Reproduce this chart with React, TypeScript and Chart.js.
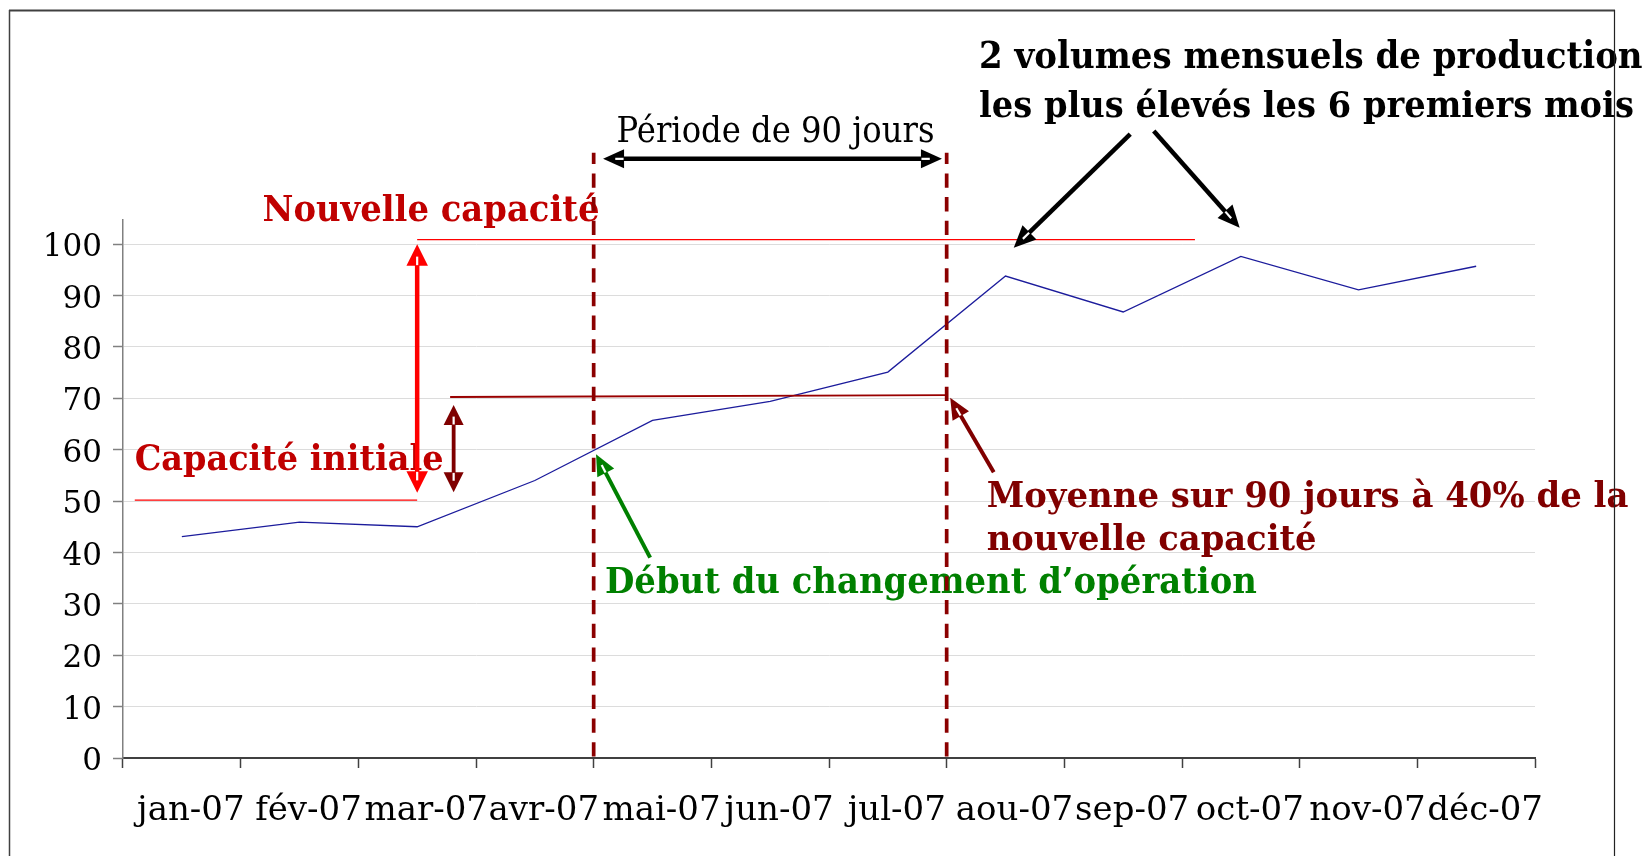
import React, { useEffect, useRef } from 'react';
import { Chart, registerables } from 'chart.js';

Chart.register(...registerables);

// ---------- data ----------
const months = ['jan-07', 'fév-07', 'mar-07', 'avr-07', 'mai-07', 'jun-07', 'jul-07', 'aou-07', 'sep-07', 'oct-07', 'nov-07', 'déc-07'];
const volumes = [43.1, 45.9, 45.0, 54.0, 65.7, 69.4, 75.1, 93.8, 86.8, 97.6, 91.1, 95.7];
const yTickValues = [0, 10, 20, 30, 40, 50, 60, 70, 80, 90, 100];
const initialCapacity = 50.2;
const newCapacity = 100.9;
const averageLevel = [70.25, 70.6];
const yMax = 104.7;

const SERIF = '"DejaVu Serif", "Liberation Serif", serif';

type Ctx = CanvasRenderingContext2D;

function drawFitted(ctx: Ctx, text: string, x: number, baseline: number, width: number, weight: string, color: string, vscale = 1.07) {
  ctx.save();
  ctx.font = `${weight} 100px ${SERIF}`;
  const w = ctx.measureText(text).width;
  const size = (100 * width) / w;
  ctx.font = `${weight} ${size}px ${SERIF}`;
  ctx.fillStyle = color;
  ctx.textAlign = 'left';
  ctx.textBaseline = 'alphabetic';
  ctx.translate(x, baseline);
  ctx.scale(1, vscale);
  ctx.fillText(text, 0, 0);
  ctx.restore();
}

function arrowHead(ctx: Ctx, tipX: number, tipY: number, ang: number, color: string, len: number, wid: number) {
  const c = Math.cos(ang), s = Math.sin(ang);
  const bx = tipX - c * len, by = tipY - s * len;
  const px = -s * wid / 2, py = c * wid / 2;
  ctx.beginPath();
  ctx.moveTo(tipX, tipY);
  ctx.lineTo(bx + px, by + py);
  ctx.lineTo(bx - px, by - py);
  ctx.closePath();
  ctx.fillStyle = color;
  ctx.fill();
  ctx.beginPath();
  ctx.moveTo(bx + c * 0.5, by + s * 0.5);
  ctx.lineTo(bx + c * len * 0.42, by + s * len * 0.42);
  ctx.strokeStyle = '#ffffff';
  ctx.lineWidth = 2.2;
  ctx.stroke();
}

function arrow(ctx: Ctx, x1: number, y1: number, x2: number, y2: number, color: string, lw: number, startHead: boolean, endHead: boolean, len = 21, wid = 21) {
  const ang = Math.atan2(y2 - y1, x2 - x1);
  const c = Math.cos(ang), s = Math.sin(ang);
  const sx = startHead ? x1 + c * len * 0.9 : x1;
  const sy = startHead ? y1 + s * len * 0.9 : y1;
  const ex = endHead ? x2 - c * len * 0.9 : x2;
  const ey = endHead ? y2 - s * len * 0.9 : y2;
  ctx.save();
  ctx.beginPath();
  ctx.moveTo(sx, sy);
  ctx.lineTo(ex, ey);
  ctx.strokeStyle = color;
  ctx.lineWidth = lw;
  ctx.lineCap = 'butt';
  ctx.stroke();
  if (endHead) arrowHead(ctx, x2, y2, ang, color, len, wid);
  if (startHead) arrowHead(ctx, x1, y1, ang + Math.PI, color, len, wid);
  ctx.restore();
}

const annotationPlugin = {
  id: 'annotations',
  afterDatasetsDraw(chart: any) {
    const ctx: Ctx = chart.ctx;
    const xs = chart.scales.x;
    const ys = chart.scales.y;
    const X = (i: number) => xs.getPixelForValue(i);
    const Y = (v: number) => ys.getPixelForValue(v);

    // texts
    drawFitted(ctx, 'Période de 90 jours', 616.6, 141.7, 318, 'normal', '#000000');
    drawFitted(ctx, '2 volumes mensuels de production', 979, 68.3, 664, 'bold', '#000000');
    drawFitted(ctx, 'les plus élevés les 6 premiers mois', 979, 116.7, 655, 'bold', '#000000');
    drawFitted(ctx, 'Nouvelle capacité', 262.5, 220.7, 337, 'bold', '#C00000');
    drawFitted(ctx, 'Capacité initiale', 134.7, 470, 309, 'bold', '#C00000');
    drawFitted(ctx, 'Moyenne sur 90 jours à 40% de la', 986.7, 507, 642, 'bold', '#800000');
    drawFitted(ctx, 'nouvelle capacité', 986.7, 550, 330, 'bold', '#800000');
    drawFitted(ctx, 'Début du changement d\u2019opération', 605, 593.3, 652, 'bold', '#008000');

    ctx.save();
    // capacity lines
    ctx.lineWidth = 1.3;
    ctx.strokeStyle = '#FF0000';
    ctx.beginPath();
    ctx.moveTo(X(-0.4), Y(initialCapacity));
    ctx.lineTo(X(2.0), Y(initialCapacity));
    ctx.stroke();
    ctx.beginPath();
    ctx.moveTo(X(2.0), Y(newCapacity));
    ctx.lineTo(X(8.61), Y(newCapacity));
    ctx.stroke();
    // 90-day average line
    ctx.strokeStyle = '#990000';
    ctx.lineWidth = 1.8;
    ctx.beginPath();
    ctx.moveTo(X(2.28), Y(averageLevel[0]));
    ctx.lineTo(X(6.49), Y(averageLevel[1]));
    ctx.stroke();
    // dashed vertical lines (drawn bottom-up)
    ctx.strokeStyle = '#8B0000';
    ctx.lineWidth = 3.7;
    ctx.setLineDash([14.3, 9.4]);
    [3.5, 6.5].forEach((i) => {
      ctx.beginPath();
      ctx.moveTo(X(i), Y(0) - 1.5);
      ctx.lineTo(X(i), Y(117.8));
      ctx.stroke();
    });
    ctx.setLineDash([]);
    ctx.restore();

    // arrows
    arrow(ctx, X(2.0), Y(51.6), X(2.0), Y(100.0), '#FF0000', 4.5, true, true, 21.5, 21.5);
    arrow(ctx, X(2.31), Y(51.7), X(2.31), Y(68.7), '#7F0000', 3.8, true, true, 20, 20);
    arrow(ctx, X(3.58), Y(116.6), X(6.46), Y(116.6), '#000000', 4.5, true, true, 21, 19);
    arrow(ctx, X(8.06), Y(121.4), X(7.07), Y(99.3), '#000000', 4.5, false, true, 22, 20);
    arrow(ctx, X(8.26), Y(122.0), X(8.99), Y(103.2), '#000000', 4.5, false, true, 22, 20);
    arrow(ctx, X(3.98), Y(39.0), X(3.52), Y(59.1), '#008000', 4, false, true, 21, 19);
    arrow(ctx, X(6.90), Y(55.6), X(6.53), Y(70.1), '#800000', 4, false, true, 21, 19);

    // frame
    ctx.save();
    ctx.strokeStyle = '#404040';
    ctx.lineWidth = 2;
    ctx.beginPath();
    ctx.moveTo(9, 10.5);
    ctx.lineTo(1615, 10.5);
    ctx.stroke();
    ctx.lineWidth = 1.5;
    ctx.beginPath();
    ctx.moveTo(9.5, 10);
    ctx.lineTo(9.5, 860);
    ctx.stroke();
    ctx.strokeStyle = '#222222';
    ctx.lineWidth = 1.2;
    ctx.beginPath();
    ctx.moveTo(1614.5, 10);
    ctx.lineTo(1614.5, 860);
    ctx.stroke();
    ctx.restore();
  },
};

export default function App() {
  const ref = useRef<HTMLCanvasElement>(null);
  useEffect(() => {
    const canvas = ref.current;
    if (!canvas) return;
    const chart = new Chart(canvas, {
      type: 'line',
      data: {
        labels: months,
        datasets: [
          {
            data: volumes,
            borderColor: '#1C1C9C',
            borderWidth: 1.3,
            pointRadius: 0,
            tension: 0,
            fill: false,
          },
        ],
      },
      options: {
        responsive: false,
        animation: false,
        devicePixelRatio: 1,
        events: [],
        layout: { padding: { top: 220, right: 112, left: 0, bottom: 0 } },
        plugins: {
          legend: { display: false },
          tooltip: { enabled: false },
          title: { display: false },
        },
        scales: {
          x: {
            type: 'category',
            offset: true,
            grid: {
              offset: true,
              drawOnChartArea: false,
              drawTicks: true,
              tickLength: 10,
              tickColor: '#404040',
              tickWidth: 1.5,
            },
            border: { color: '#404040', width: 2 },
            ticks: {
              autoSkip: false,
              maxRotation: 0,
              minRotation: 0,
              color: '#000000',
              font: { family: SERIF, size: 34 },
              padding: 23,
              labelOffset: 9,
            },
            afterFit: (s: any) => {
              s.height = 98;
            },
          },
          y: {
            type: 'linear',
            min: 0,
            max: yMax,
            afterBuildTicks: (s: any) => {
              s.ticks = yTickValues.map((v) => ({ value: v }));
            },
            ticks: {
              color: '#000000',
              font: { family: SERIF, size: 31 },
              padding: 11,
              labelOffset: 4,
              callback: (v: any) => String(v),
            },
            grid: {
              color: '#dcdcdc',
              lineWidth: 1,
              tickColor: '#808080',
              tickLength: 10,
              tickWidth: 1.5,
            },
            border: { color: '#808080', width: 1.5 },
            afterFit: (s: any) => {
              s.width = 123;
            },
          },
        },
      },
      plugins: [annotationPlugin],
    } as any);
    return () => chart.destroy();
  }, []);
  return (
    <div style={{ position: 'absolute', left: 0, top: 0, width: 1647, height: 856, background: '#ffffff', overflow: 'hidden' }}>
      <canvas ref={ref} width={1647} height={856} style={{ display: 'block', width: 1647, height: 856 }} />
    </div>
  );
}
